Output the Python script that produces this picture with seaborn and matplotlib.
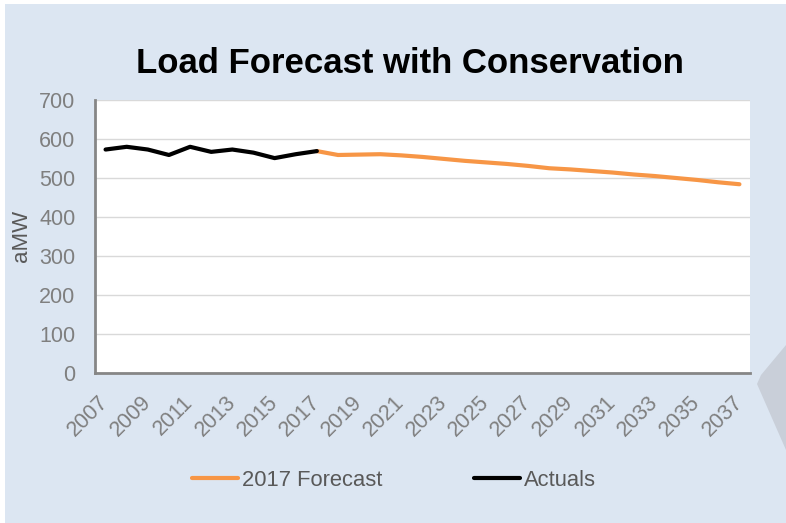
import matplotlib
matplotlib.use("Agg")
import matplotlib.pyplot as plt
from matplotlib.patches import Rectangle, Polygon
from matplotlib.lines import Line2D
import seaborn as sns
import pandas as pd

# ---- data ----
actual_years = list(range(2007, 2018))
actual_values = [573, 580, 573, 559, 580, 567, 573, 565, 551, 561, 569]

forecast_years = list(range(2017, 2038))
forecast_values = [569, 559, 560, 561, 558, 554, 549, 544, 540, 536, 531,
                   525, 522, 518, 514, 509, 505, 500, 495, 489, 484]

series_names = ["2017 Forecast", "Actuals"]
series_colors = ["#F79646", "#000000"]
y_ticks = [0, 100, 200, 300, 400, 500, 600, 700]
x_ticks = list(range(2007, 2038, 2))

title = "Load Forecast with Conservation"
y_label = "aMW"

df = pd.concat([
    pd.DataFrame({"Year": forecast_years, "aMW": forecast_values, "Series": series_names[0]}),
    pd.DataFrame({"Year": actual_years, "aMW": actual_values, "Series": series_names[1]}),
], ignore_index=True)

sns.set_theme(style="white")
plt.rcParams["font.family"] = ["Liberation Sans", "DejaVu Sans"]

W, H = 786, 523
fig = plt.figure(figsize=(W / 100, H / 100), dpi=100, facecolor="white")

# light blue background panel
fig.patches.append(Rectangle((5 / W, 0), (W - 5) / W, (H - 4) / H, transform=fig.transFigure,
                             facecolor="#DCE6F2", edgecolor="none", zorder=-2))
# decorative grey shape at right edge
pts = [(786, 345), (761, 375), (757, 384), (786, 450)]
fig.patches.append(Polygon([(x / W, 1 - y / H) for x, y in pts], closed=True,
                           transform=fig.transFigure, facecolor="#C9CFD9",
                           edgecolor="none", zorder=-1))

ax = fig.add_axes([95 / W, 1 - 373 / H, (750 - 95) / W, (373 - 100) / H])
ax.set_facecolor("white")
ax.set_zorder(1)

sns.lineplot(data=df, x="Year", y="aMW", hue="Series", hue_order=series_names,
             palette=dict(zip(series_names, series_colors)), linewidth=3,
             ax=ax, legend=False, solid_capstyle="round")

ax.set_xlim(2006.5, 2037.5)
ax.set_ylim(0, 700)
ax.set_yticks(y_ticks)
ax.set_xticks(x_ticks)
ax.set_xticklabels([str(x) for x in x_ticks], rotation=45, ha="right", va="center",
                   rotation_mode="anchor")
ax.tick_params(axis="both", length=0, labelsize=15.5, labelcolor="#7F7F7F")
ax.tick_params(axis="y", pad=14)
ax.tick_params(axis="x", pad=19)
ax.yaxis.grid(True, color="#D9D9D9", linewidth=1)
ax.xaxis.grid(False)
ax.set_axisbelow(True)
for s in ["top", "right"]:
    ax.spines[s].set_visible(False)
for s in ["left", "bottom"]:
    ax.spines[s].set_color("#868686")
    ax.spines[s].set_linewidth(2)
ax.set_xlabel("")
ax.set_ylabel("")

fig.text(21 / W, 1 - 236 / H, y_label, rotation=90, ha="center", va="center",
         fontsize=16, color="#595959")

fig.text(410 / W, 1 - 73 / H, title, ha="center", va="baseline",
         fontsize=25, fontweight="bold", color="black")

handles = [Line2D([0], [0], color=c, linewidth=3, solid_capstyle="round") for c in series_colors]
fig.legend(handles, series_names, loc="center", bbox_to_anchor=(394 / W, 1 - 480 / H),
           ncol=2, frameon=False, fontsize=15.8, labelcolor="#595959",
           handlelength=2.1, handletextpad=0.15, columnspacing=4.2)

fig.savefig("out.png", dpi=100, facecolor="white")
